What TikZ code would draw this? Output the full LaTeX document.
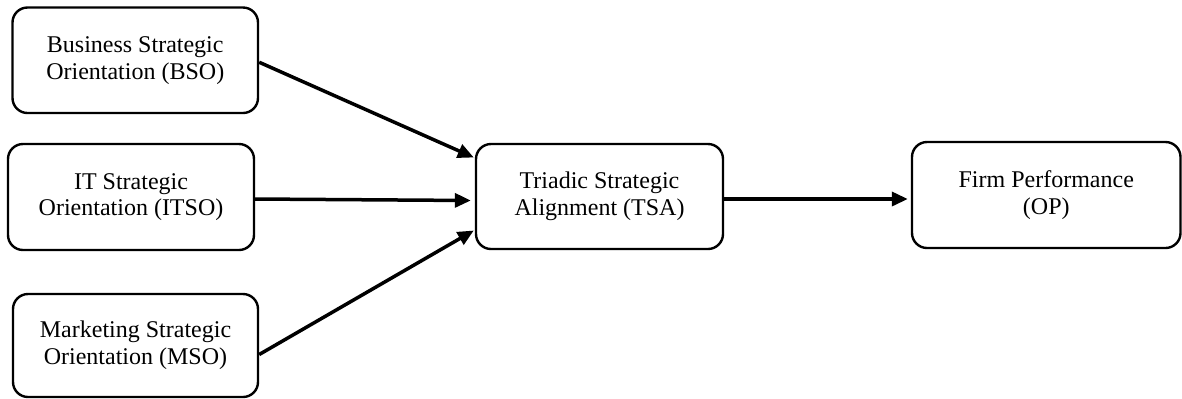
\documentclass[tikz,border=0pt]{standalone}
\usepackage{fontspec}
\setmainfont{Liberation Serif}
\usetikzlibrary{arrows.meta,calc}
\begin{document}
\begin{tikzpicture}[x=0.5pt,y=-0.5pt,
  box/.style={draw, line width=1.2pt, rounded corners=7.5pt, align=center, inner sep=0pt,
    font=\fontsize{12}{13.4}\selectfont},
  link/.style={line width=1.75pt, -{Triangle[length=8pt,width=7pt]}}]
\useasboundingbox (0,0) rectangle (1182,398);
\node[box, minimum width=122.75pt, minimum height=52.75pt] (bso) at (135.25,60.25) {Business Strategic\\Orientation (BSO)};
\node[box, minimum width=123pt, minimum height=53pt] (itso) at (131,197) {IT Strategic\\Orientation (ITSO)};
\node[box, minimum width=122.5pt, minimum height=51.5pt] (mso) at (135.5,345.5) {Marketing Strategic\\Orientation (MSO)};
\node[box, minimum width=123.5pt, minimum height=52.5pt] (tsa) at (599.5,196.5) {Triadic Strategic\\Alignment (TSA)};
\node[box, minimum width=134.25pt, minimum height=53pt] (op) at (1046.25,195) {Firm Performance\\(OP)};
\coordinate (t1) at ($(tsa.west)+(-1,-39)$);
\coordinate (t2) at ($(tsa.west)+(-4,4)$);
\coordinate (t3) at ($(tsa.west)+(-1,34)$);
\draw[link] ($(bso.east)+(0,2)$) -- (t1);
\draw[link] ($(itso.east)+(0,2)$) -- (t2);
\draw[link] ($(mso.east)+(0,9)$) -- (t3);
\draw[link] ($(tsa.east)+(0,2.5)$) -- ($(op.west)+(-3,4)$);
\end{tikzpicture}
\end{document}
